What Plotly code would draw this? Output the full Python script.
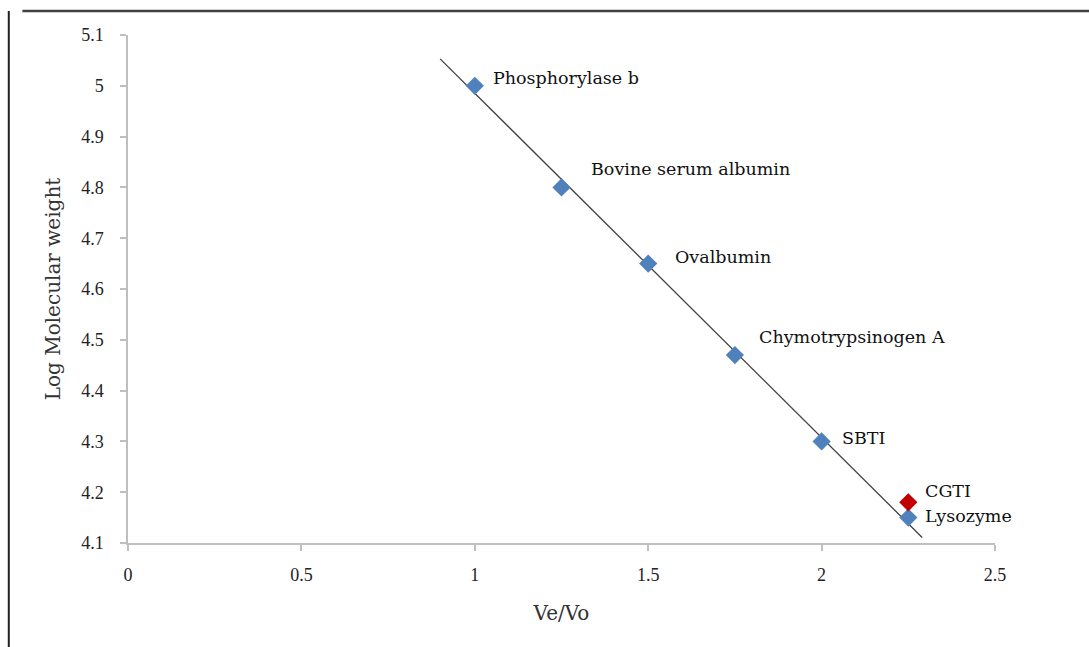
import numpy as np
import plotly.graph_objects as go

proteins = ["Phosphorylase b", "Bovine serum albumin", "Ovalbumin",
            "Chymotrypsinogen A", "SBTI", "Lysozyme"]
ve_vo = [1.0, 1.25, 1.5, 1.75, 2.0, 2.25]
log_mw = [5.0, 4.8, 4.65, 4.47, 4.3, 4.15]

sample_name = "CGTI"
sample_x = [2.25]
sample_y = [4.18]

trend_x_range = [0.9, 2.29]

x_ticks = [0, 0.5, 1, 1.5, 2, 2.5]
x_tick_labels = ["0", "0.5", "1", "1.5", "2", "2.5"]
y_ticks = [4.1, 4.2, 4.3, 4.4, 4.5, 4.6, 4.7, 4.8, 4.9, 5.0, 5.1]
y_tick_labels = ["4.1", "4.2", "4.3", "4.4", "4.5", "4.6", "4.7", "4.8", "4.9", "5", "5.1"]

# label offsets in pixels (styling)
label_shift = {
    "Phosphorylase b": (16, 8),
    "Bovine serum albumin": (27, 18),
    "Ovalbumin": (25, 7),
    "Chymotrypsinogen A": (22, 18),
    "SBTI": (18, 3),
    "Lysozyme": (15, 2),
}

slope, intercept = np.polyfit(ve_vo, log_mw, 1)
tx = np.array(trend_x_range)
ty = slope * tx + intercept

SERIF = "Liberation Serif, Times New Roman, serif"
LABEL = "DejaVu Serif, serif"

fig = go.Figure()
fig.add_trace(go.Scatter(x=tx, y=ty, mode="lines",
                         line=dict(color="#404040", width=1.3),
                         showlegend=False, hoverinfo="skip"))
fig.add_trace(go.Scatter(x=ve_vo, y=log_mw, mode="markers",
                         marker=dict(symbol="diamond", size=14, color="#4F81BD"),
                         showlegend=False, text=proteins))
fig.add_trace(go.Scatter(x=sample_x, y=sample_y, mode="markers",
                         marker=dict(symbol="diamond", size=14, color="#C00000"),
                         showlegend=False, text=[sample_name]))

for name, x, y in zip(proteins, ve_vo, log_mw):
    dx, dy = label_shift[name]
    fig.add_annotation(x=x, y=y, text=name, showarrow=False,
                       xanchor="left", yanchor="middle",
                       xshift=dx, yshift=dy,
                       font=dict(family=LABEL, size=17.5, color="#111111"))
fig.add_annotation(x=sample_x[0], y=sample_y[0], text=sample_name, showarrow=False,
                   xanchor="left", yanchor="middle", xshift=15, yshift=11,
                   font=dict(family=LABEL, size=17.5, color="#111111"))

# outer frame
fig.add_shape(type="line", xref="paper", yref="paper", x0=-0.1218, x1=1.2,
              y0=1.0472, y1=1.0472, line=dict(color="#404040", width=2.5))
fig.add_shape(type="line", xref="paper", yref="paper", x0=-0.1375, x1=-0.1375,
              y0=1.0472, y1=-0.3, line=dict(color="#202020", width=2))

fig.update_layout(
    width=1089, height=647,
    margin=dict(l=128, r=94, t=35, b=104),
    paper_bgcolor="white", plot_bgcolor="white",
    font=dict(family=SERIF, size=15, color="#000000"),
    xaxis=dict(range=[0, 2.5], tickvals=x_ticks, ticktext=x_tick_labels,
               showgrid=False, zeroline=False, showline=True,
               linecolor="#BFBFBF", linewidth=1.5,
               ticks="outside", ticklen=6, tickcolor="#BFBFBF", tickwidth=1.5,
               ticklabelstandoff=9,
               tickfont=dict(family=SERIF, size=18, color="#222222"),
               title=dict(text="Ve/Vo", font=dict(family=LABEL, size=20, color="#333333"),
                          standoff=22)),
    yaxis=dict(range=[4.1, 5.1], tickvals=y_ticks, ticktext=y_tick_labels,
               showgrid=False, zeroline=False, showline=True,
               linecolor="#BFBFBF", linewidth=1.5,
               ticks="outside", ticklen=6, tickcolor="#BFBFBF", tickwidth=1.5,
               ticklabelstandoff=13,
               tickfont=dict(family=SERIF, size=18, color="#222222"),
               title=dict(text="Log Molecular weight",
                          font=dict(family=LABEL, size=20, color="#333333"),
                          standoff=15)),
)

fig.write_html("out.html")
